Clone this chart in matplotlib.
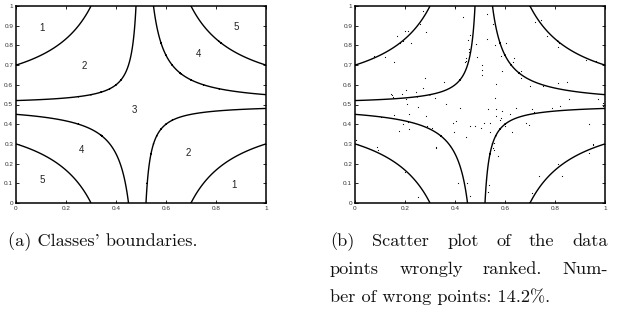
import numpy as np
import matplotlib
matplotlib.use("Agg")
import matplotlib.pyplot as plt

# contour levels of (x - .5)(y - .5) that separate the five classes
LEVELS = [-0.1, -0.01, 0.025, 0.1]

# class labels on panel (a)
LABEL_TXT = ["1", "2", "5", "4", "3", "4", "2", "5", "1"]
LABEL_X = [0.103, 0.272, 0.88, 0.732, 0.474, 0.263, 0.688, 0.103, 0.87]
LABEL_Y = [0.887, 0.696, 0.892, 0.757, 0.473, 0.267, 0.253, 0.115, 0.093]

# wrongly ranked points, panel (b)
WRONG_X = [0.20, 0.27, 0.40, 0.433, 0.527, 0.55, 0.72, 0.744, 0.26, 0.20, 0.21,
           0.284, 0.167, 0.46, 0.767, 0.19, 0.18, 0.223, 0.453, 0.527, 0.483,
           0.604, 0.559, 0.457, 0.455, 0.817, 0.81, 0.077, 0.12, 0.156, 0.443,
           0.444, 0.441, 0.487, 0.583, 0.636, 0.631, 0.923, 0.963, 0.507, 0.507,
           0.508, 0.587, 0.663, 0.665, 0.281, 0.357, 0.564, 0.70, 0.81, 0.847,
           0.751, 0.204, 0.273, 0.244, 0.143, 0.147, 0.151, 0.187, 0.204, 0.023,
           0.319, 0.56, 0.856, 0.971, 0.993, 0.991, 0.208, 0.251, 0.364, 0.419,
           0.532, 0.563, 0.588, 0.643, 0.707, 0.715, 0.789, 0.82, 0.103, 0.157,
           0.217, 0.283, 0.563, 0.58, 0.62, 0.584, 0.393, 0.404, 0.193, 0.213,
           0.287, 0.307, 0.46, 0.479, 0.504, 0.517, 0.54, 0.60, 0.683, 0.696,
           0.935, 0.177, 0.217, 0.396, 0.54, 0.627, 0.444, 0.324, 0.323, 0.38,
           0.556, 0.553, 0.555, 0.087, 0.091, 0.004, 0.573, 0.953, 0.951, 0.937,
           0.811, 0.20, 0.829, 0.736, 0.413, 0.447, 0.523, 0.536, 0.707, 0.252,
           0.46, 0.533]
WRONG_Y = [1.0, 0.975, 0.993, 0.943, 0.96, 0.91, 0.92, 0.929, 0.91, 0.875, 0.875,
           0.867, 0.85, 0.853, 0.85, 0.82, 0.81, 0.81, 0.828, 0.831, 0.806,
           0.814, 0.80, 0.78, 0.769, 0.81, 0.79, 0.747, 0.74, 0.718, 0.735,
           0.72, 0.716, 0.743, 0.747, 0.735, 0.718, 0.726, 0.72, 0.70, 0.676,
           0.65, 0.672, 0.672, 0.637, 0.632, 0.613, 0.603, 0.596, 0.611, 0.613,
           0.596, 0.574, 0.584, 0.561, 0.554, 0.546, 0.537, 0.551, 0.527, 0.524,
           0.535, 0.535, 0.529, 0.529, 0.507, 0.493, 0.503, 0.486, 0.502, 0.481,
           0.476, 0.478, 0.465, 0.481, 0.476, 0.463, 0.481, 0.493, 0.439, 0.448,
           0.451, 0.443, 0.444, 0.422, 0.451, 0.431, 0.405, 0.414, 0.40, 0.409,
           0.392, 0.38, 0.389, 0.392, 0.383, 0.405, 0.405, 0.389, 0.405, 0.397,
           0.40, 0.367, 0.375, 0.36, 0.358, 0.358, 0.333, 0.284, 0.279, 0.287,
           0.304, 0.279, 0.267, 0.284, 0.27, 0.32, 0.24, 0.30, 0.296, 0.253,
           0.198, 0.157, 0.139, 0.139, 0.101, 0.101, 0.118, 0.093, 0.051, 0.03,
           0.034, 0.056]

XTICKS = [0, 0.2, 0.4, 0.6, 0.8, 1]
XTICKLABELS = ["0", "0.2", "0.4", "0.6", "0.8", "1"]
YTICKS = [0, 0.1, 0.2, 0.3, 0.4, 0.5, 0.6, 0.7, 0.8, 0.9, 1]
YTICKLABELS = ["0", "0.1", "0.2", "0.3", "0.4", "0.5", "0.6", "0.7", "0.8", "0.9", "1"]

W, H = 637, 328
fig = plt.figure(figsize=(W / 100, H / 100), dpi=100)
fig.patch.set_facecolor("white")


def frame(ax):
    ax.set_xlim(0, 1); ax.set_ylim(0, 1)
    ax.set_xticks(XTICKS); ax.set_xticklabels(XTICKLABELS)
    ax.set_yticks(YTICKS); ax.set_yticklabels(YTICKLABELS)
    ax.tick_params(direction="in", length=2.2, width=0.6, labelsize=4.6,
                   labelcolor="#333333", top=True, right=True, pad=2)
    for s in ax.spines.values():
        s.set_linewidth(1.1)
    for lab in ax.get_xticklabels() + ax.get_yticklabels():
        lab.set_family("Liberation Sans")


gx = np.linspace(0, 1, 801)
GX, GY = np.meshgrid(gx, gx)
Z = (GX - 0.5) * (GY - 0.5)

ax1 = fig.add_axes([16 / W, 1 - 203 / H, 250 / W, 197 / H])
ax1.contour(GX, GY, Z, levels=LEVELS, colors="black", linewidths=1.0,
            negative_linestyles="solid")
for t, x, y in zip(LABEL_TXT, LABEL_X, LABEL_Y):
    ax1.text(x, y, t, ha="center", va="center", fontsize=7,
             family="Liberation Sans", color="#222222")
frame(ax1)

ax2 = fig.add_axes([355 / W, 1 - 203 / H, 250 / W, 197 / H])
ax2.contour(GX, GY, Z, levels=LEVELS, colors="black", linewidths=1.0,
            negative_linestyles="solid")
ax2.plot(WRONG_X, WRONG_Y, ".", color="black", ms=1.7, mec="none", clip_on=False)
frame(ax2)

# captions (justified paragraph emulated line by line)
cap = dict(fontsize=13.2, family=["cmr10", "DejaVu Serif"], va="baseline",
           color="#111111")
fig.text(8 / W, 1 - 246 / H, "(a) Classes' boundaries.", **cap)

lines_b = ["(b) Scatter plot of the data",
           "points wrongly ranked. Num-",
           "ber of wrong points: 14.2%."]
justify = [True, True, False]
x0, x1 = 330, 608
base = [246, 274, 302]
fig.canvas.draw()
r = fig.canvas.get_renderer()
for line, j, b in zip(lines_b, justify, base):
    if not j:
        fig.text(x0 / W, 1 - b / H, line, **cap)
        continue
    words = line.split(" ")
    objs = [fig.text(0, 1 - b / H, w, **cap) for w in words]
    widths = [o.get_window_extent(r).width for o in objs]
    gap = (x1 - x0 - sum(widths)) / (len(words) - 1)
    x = x0
    for o, wd in zip(objs, widths):
        o.set_x(x / W)
        x += wd + gap

fig.savefig("out.png", dpi=100)
